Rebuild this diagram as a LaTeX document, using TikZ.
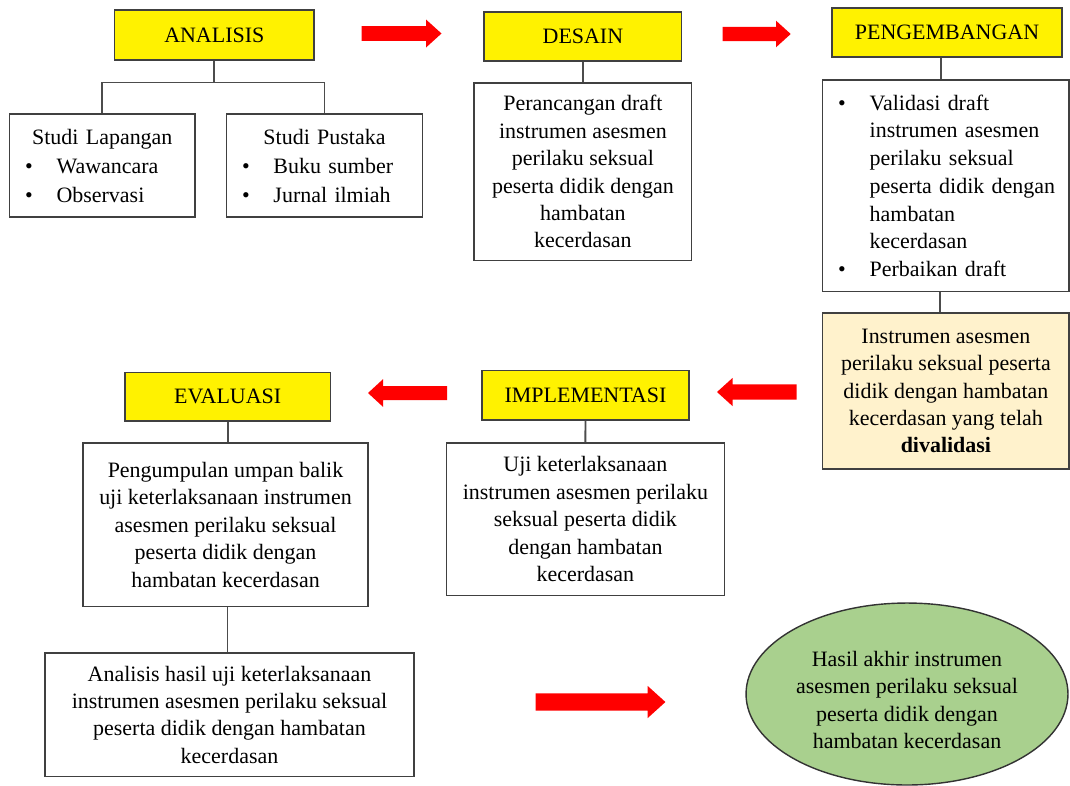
\documentclass[tikz,border=0pt]{standalone}
\usepackage{fontspec}
\setmainfont{Liberation Serif}
\usetikzlibrary{shapes.geometric}
\setlength{\parindent}{0pt}

\definecolor{validfill}{HTML}{FFF2CC}
\definecolor{hasilfill}{HTML}{A9D08E}

\newcommand{\itm}[1]{\makebox[0.63cm][l]{\textbullet}\mbox{#1}}
\newcommand{\ind}[1]{\hspace*{0.63cm}\mbox{#1}}
\newcommand{\ttl}[1]{\makebox[\hsize]{#1}}

\begin{document}
\begin{tikzpicture}[x=0.02cm, y=-0.02cm,
  txt/.style={font=\fontsize{12.5}{15.6}\selectfont},
  phase/.style={txt, draw=black!75, line width=0.9pt, fill=yellow, inner sep=0pt},
  box/.style={txt, draw=black!75, line width=0.9pt, fill=white, align=center, inner sep=0pt},
  listbox/.style={box, align=left, inner xsep=0.31cm, font=\fontsize{12.5}{16.5}\selectfont},
  hasil/.style={txt, ellipse, draw=black!80, line width=0.8pt, fill=hasilfill, align=center, inner sep=0pt},
  conn/.style={draw=black!70, line width=1.1pt},
  redarrow/.style={fill=red}]

\path[use as bounding box, fill=white] (0,0) rectangle (1070,785);

%%%%%%%%%%%% Analisis
\node[phase, minimum width=3.99cm, minimum height=1cm] (ana) at (214.3,35) {ANALISIS};
\node[listbox, text width=3.09cm, minimum height=2.07cm] (lap) at (102.3,165.5)
  {\ttl{Studi Lapangan}\\ \itm{Wawancara}\\ \itm{Observasi}};
\node[listbox, text width=3.3cm, minimum height=2.07cm] (pus) at (324.5,165.5)
  {\ttl{Studi Pustaka}\\ \itm{Buku sumber}\\ \itm{Jurnal ilmiah}};
\draw[conn] (ana.south) -- ++(0,21.7) coordinate (fork);
\draw[conn] (fork) -| (lap.north);
\draw[conn] (fork) -| (pus.north);

%%%%%%%%%%%% Desain
\node[phase, minimum width=3.95cm, minimum height=0.98cm] (des) at (582.9,36.5) {DESAIN};
\node[box, minimum width=4.35cm, minimum height=3.56cm] (desbox) at (582.9,171.7)
  {Perancangan draft\\ instrumen asesmen\\ perilaku seksual\\ peserta didik dengan\\ hambatan\\ kecerdasan};
\draw[conn] (des.south) -- (desbox.north);

%%%%%%%%%%%% Pengembangan
\node[phase, minimum width=4.6cm, minimum height=0.97cm] (pen) at (947,32.5) {PENGEMBANGAN};
\node[listbox, font=\fontsize{12.5}{15.8}\selectfont, text width=4.31cm, minimum height=4.23cm] (penbox) at (945.9,185.8)
  {\itm{Validasi draft}\\ \ind{instrumen asesmen}\\ \ind{perilaku seksual}\\ \ind{peserta didik dengan}\\
   \ind{hambatan}\\ \ind{kecerdasan}\\ \itm{Perbaikan draft}};
\node[box, fill=validfill, minimum width=4.93cm, minimum height=3.12cm] (valid) at (945.9,391)
  {Instrumen asesmen\\ perilaku seksual peserta\\ didik dengan hambatan\\ kecerdasan yang telah\\ \textbf{divalidasi}};
\draw[conn] ([xshift=-0.12cm]pen.south) -- ([xshift=-0.12cm]pen.south |- penbox.north);
\draw[conn] ([xshift=-0.12cm]penbox.south) -- ([xshift=-0.12cm]penbox.south |- valid.north);

%%%%%%%%%%%% Implementasi
\node[phase, minimum width=4.14cm, minimum height=0.99cm] (imp) at (585.5,395.3) {IMPLEMENTASI};
\node[box, minimum width=5.56cm, minimum height=3.05cm] (impbox) at (585.4,519.2)
  {Uji keterlaksanaan\\ instrumen asesmen perilaku\\ seksual peserta didik\\ dengan hambatan\\ kecerdasan};
\draw[conn] (imp.south) -- (impbox.north);

%%%%%%%%%%%% Evaluasi
\node[phase, minimum width=4.11cm, minimum height=0.97cm] (eva) at (227.7,396.7) {EVALUASI};
\node[box, minimum width=5.7cm, minimum height=3.28cm] (evabox) at (225.5,524.7)
  {Pengumpulan umpan balik\\ uji keterlaksanaan instrumen\\ asesmen perilaku seksual\\ peserta didik dengan\\ hambatan kecerdasan};
\node[box, minimum width=7.39cm, minimum height=2.48cm] (anabox) at (229.5,714.7)
  {Analisis hasil uji keterlaksanaan\\ instrumen asesmen perilaku seksual\\ peserta didik dengan hambatan\\ kecerdasan};
\draw[conn] (eva.south) -- (eva.south |- evabox.north);
\draw[conn] ([xshift=0.04cm]evabox.south) -- ([xshift=0.04cm]evabox.south |- anabox.north);

%%%%%%%%%%%% Hasil akhir
\node[hasil, minimum width=6.44cm, minimum height=3.64cm] (akhir) at (907,694)
  {\rule{0pt}{15.4pt}Hasil akhir instrumen\\ asesmen perilaku seksual\\ peserta didik dengan\\ hambatan kecerdasan};

%%%%%%%%%%%% Red arrows: tail / tip / head start / centre / half body / half head
\foreach \xa/\xb/\xh/\yc/\bw/\hw in {361.6/441.5/426/33.5/7.3/14, 722.7/790.7/776/34/7.2/13.3,
    796.7/717/732.7/392/7.6/14.2, 447/368/383/393/7/13.8, 535.6/665.4/647.5/702/8.7/16.2}
  \fill[redarrow] (\xa,\yc-\bw) -- (\xh,\yc-\bw) -- (\xh,\yc-\hw) -- (\xb,\yc)
    -- (\xh,\yc+\hw) -- (\xh,\yc+\bw) -- (\xa,\yc+\bw) -- cycle;
\end{tikzpicture}
\end{document}
